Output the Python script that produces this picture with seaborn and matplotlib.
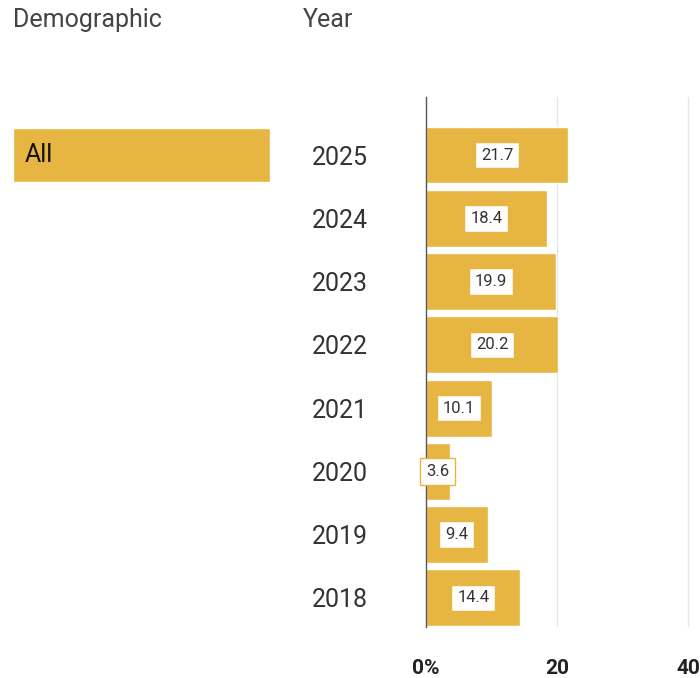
import matplotlib
matplotlib.use("Agg")
import matplotlib.pyplot as plt
import seaborn as sns
import pandas as pd

years = ["2025", "2024", "2023", "2022", "2021", "2020", "2019", "2018"]
values = [21.7, 18.4, 19.9, 20.2, 10.1, 3.6, 9.4, 14.4]
demographics = ["All"]
xticks = [0, 20, 40]
xtick_labels = ["0%", "20", "40"]

gold = "#E7B541"

sns.set_theme(style="white")
plt.rcParams["font.family"] = ["Roboto", "DejaVu Sans"]

df = pd.DataFrame({"year": years, "value": values})

fig = plt.figure(figsize=(7, 6.78), dpi=100)
ax = fig.add_axes([0.6086, 0.0752, 0.3914, 0.782])

sns.barplot(data=df, x="value", y="year", order=years, color=gold,
            saturation=1, width=0.9, ax=ax)

for i, v in enumerate(values):
    ax.text(v / 2, i, f"{v}", ha="center", va="center", fontsize=12,
            color="#333333",
            bbox=dict(boxstyle="square,pad=0.35", facecolor="white",
                      edgecolor=gold, linewidth=1))

ax.set_xlim(0, 41.8)
ax.set_ylim(7.46, -0.92)
ax.set_xticks(xticks)
ax.set_xticklabels(xtick_labels, fontsize=15, fontweight="bold", color="#222222")
ax.tick_params(axis="x", length=0, pad=23)
ax.tick_params(axis="y", length=0, pad=42, labelsize=18, labelcolor="#333333")
ax.set_xlabel("")
ax.set_ylabel("")
for sp in ["top", "right", "bottom"]:
    ax.spines[sp].set_visible(False)
ax.spines["left"].set_color("#555555")
ax.spines["left"].set_linewidth(1)
for xt in xticks[1:]:
    ax.axvline(xt, color="#e6e6e6", lw=1, zorder=0)

# demographic column
ax2 = fig.add_axes([13 / 700, 0.0752, (270 - 13) / 700, 0.782])
ax2.barh([0], [1], height=0.85, color=gold)
ax2.set_xlim(0, 1)
ax2.set_ylim(7.46, -0.92)
ax2.text(0.045, 0, demographics[0], ha="left", va="center", fontsize=18,
         color="#111111")
ax2.axis("off")

fig.text(13 / 700, 1 - 20 / 678, "Demographic", ha="left", va="center",
         fontsize=18, color="#444444")
fig.text(303 / 700, 1 - 20 / 678, "Year", ha="left", va="center",
         fontsize=18, color="#444444")

fig.savefig("out.png", dpi=100)
